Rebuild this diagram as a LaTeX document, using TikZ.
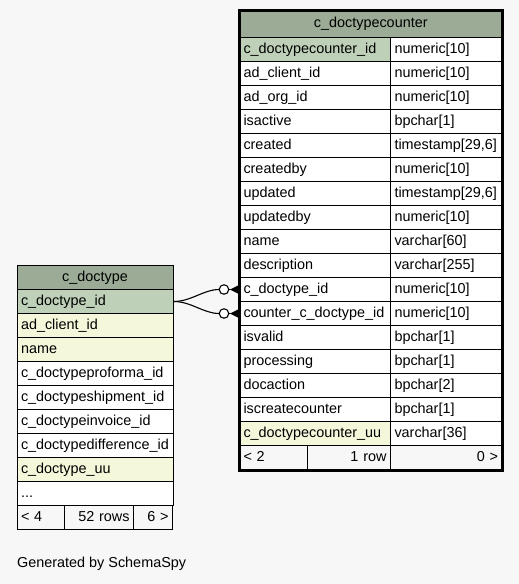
\documentclass[tikz,border=0pt]{standalone}
\usepackage{fontspec}
\setmainfont{Liberation Sans}
\definecolor{pagebg}{HTML}{F7F7F7}
\definecolor{headbg}{HTML}{9BAB96}
\definecolor{pkbg}{HTML}{BED1B8}
\definecolor{idxbg}{HTML}{F4F7DA}
\tikzset{
  cell/.style={draw=black, line width=1pt, rectangle, anchor=north west, minimum height=24pt,
    inner xsep=4pt, inner ysep=0pt, align=left, font=\fontsize{14.4}{16}\selectfont,
    text height=10.5pt, text depth=3pt},
  headcell/.style={cell, fill=headbg, align=center},
  footcell/.style={cell, fill=pagebg},
  rel/.style={line width=1.1pt, draw=black},
  optcircle/.style={draw=black, line width=1.1pt, fill=white, circle, inner sep=0pt, minimum size=9.5pt},
}
\begin{document}
\begin{tikzpicture}[x=1pt,y=-1pt]
\fill[pagebg] (0,0) rectangle (519,584);
\useasboundingbox (0,0) rectangle (519,584);

% ---------- c_doctype ----------
\node[headcell, text width=148pt, minimum height=24pt] (dth) at (16.5,265) {c\_doctype};
\node[cell, fill=pkbg, text width=148pt] (dt1) at (16.5,289) {c\_doctype\_id};
\node[cell, fill=idxbg, text width=148pt] (dt2) at (16.5,313) {ad\_client\_id};
\node[cell, fill=idxbg, text width=148pt] (dt3) at (16.5,337) {name};
\node[cell, fill=white, text width=148pt] (dt4) at (16.5,361) {c\_doctypeproforma\_id};
\node[cell, fill=white, text width=148pt] (dt5) at (16.5,385) {c\_doctypeshipment\_id};
\node[cell, fill=white, text width=148pt] (dt6) at (16.5,409) {c\_doctypeinvoice\_id};
\node[cell, fill=white, text width=148pt] (dt7) at (16.5,433) {c\_doctypedifference\_id};
\node[cell, fill=idxbg, text width=148pt] (dt8) at (16.5,457) {c\_doctype\_uu};
\node[cell, fill=white, text width=148pt] (dt9) at (16.5,481) {...};
\node[footcell, text width=39pt] (dtf1) at (16.5,505) {< 4};
\node[footcell, text width=61pt, align=right] (dtf2) at (64,505) {52 rows};
\node[footcell, text width=31pt, align=right] (dtf3) at (133,505) {6 >};

% ---------- c_doctypecounter ----------
\node[headcell, text width=254.5pt, minimum height=27pt, text depth=4pt] (dch) at (239,10) {c\_doctypecounter};
\foreach \i/\n/\t/\c [evaluate=\i as \yy using 37+(\i-1)*24] in {
  1/c\_doctypecounter\_id/numeric[10]/pkbg,
  2/ad\_client\_id/numeric[10]/white,
  3/ad\_org\_id/numeric[10]/white,
  4/isactive/bpchar[1]/white,
  5/created/{timestamp[29,6]}/white,
  6/createdby/numeric[10]/white,
  7/updated/{timestamp[29,6]}/white,
  8/updatedby/numeric[10]/white,
  9/name/varchar[60]/white,
  10/description/varchar[255]/white,
  11/c\_doctype\_id/numeric[10]/white,
  12/counter\_c\_doctype\_id/numeric[10]/white,
  13/isvalid/bpchar[1]/white,
  14/processing/bpchar[1]/white,
  15/docaction/bpchar[2]/white,
  16/iscreatecounter/bpchar[1]/white,
  17/c\_doctypecounter\_uu/varchar[36]/idxbg}
{
  \node[cell, fill=\c, text width=143pt] (dc\i) at (239,\yy) {\n};
  \node[cell, fill=white, text width=103.5pt] (dcT\i) at (390,\yy) {\t};
}
\node[footcell, text width=60pt] (dcf1) at (239,445) {< 2};
\node[footcell, text width=75pt, align=right] (dcf2) at (307,445) {1 row};
\node[footcell, text width=103.5pt, align=right] (dcf3) at (390,445) {0 >};
\draw[line width=3pt, line join=miter] (dch.north west) rectangle (dcf3.south east);

% ---------- relationships ----------
\coordinate (src) at (dt1.east);
\foreach \r in {dc11, dc12} {
  \coordinate (cc\r) at ([xshift=-15pt]\r.west);
  \draw[rel] (src) .. controls ++(18,0) and ++(-16,0) .. ([xshift=-4.75pt]cc\r);
  \draw[rel] ([xshift=4.75pt]cc\r) -- (\r.west);
  \node[optcircle] at (cc\r) {};
  \fill[black] ([xshift=-9pt]\r.west) -- ([yshift=-4.5pt]\r.west) -- ([yshift=4.5pt]\r.west) -- cycle;
}

% ---------- footer ----------
\node[anchor=west, inner sep=0pt, font=\fontsize{14.4}{16}\selectfont] (gen) at (17,564) {Generated by SchemaSpy};
\end{tikzpicture}
\end{document}
